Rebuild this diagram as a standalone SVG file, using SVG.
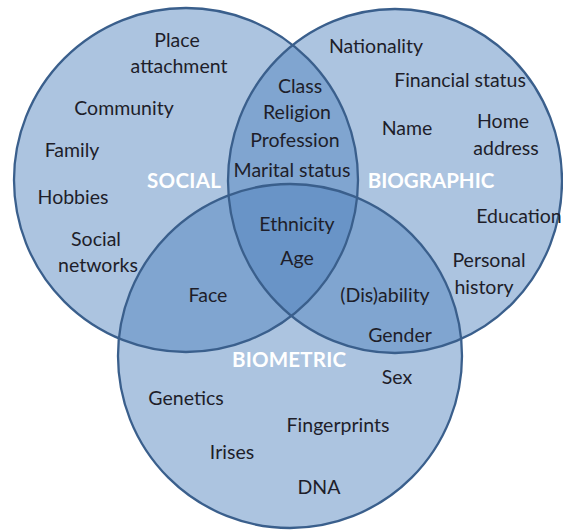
<svg xmlns="http://www.w3.org/2000/svg" width="563" height="531" viewBox="0 0 563 531">
<style>
.set{fill:#4f81bd;fill-opacity:0.47;}
.edge{fill:none;stroke:#3a5f8c;stroke-width:2.3;}
text{font-family:Lato,"Open Sans","Liberation Sans",sans-serif;font-size:19.5px;fill:#1e1e2a;text-anchor:middle;}
.title{font-weight:bold;fill:#ffffff;font-size:20.5px;}
</style>
<rect width="563" height="531" fill="#ffffff"/>
<g id="social">
<circle class="set" cx="186" cy="180" r="172"/>
</g>
<g id="biographic">
<ellipse class="set" cx="395" cy="181" rx="167" ry="172"/>
</g>
<g id="biometric">
<circle class="set" cx="290" cy="356" r="172"/>
</g>
<g id="connectors">
<circle class="edge" cx="186" cy="180" r="172"/>
<ellipse class="edge" cx="395" cy="181" rx="167" ry="172"/>
<circle class="edge" cx="290" cy="356" r="172"/>
</g>
<g id="labels">
<text class="title" x="184" y="188" textLength="74" lengthAdjust="spacing">SOCIAL</text>
<text class="title" x="431" y="188">BIOGRAPHIC</text>
<text class="title" x="289" y="367" textLength="114" lengthAdjust="spacing">BIOMETRIC</text>
</g>
<g id="social-items">
<text x="177" y="47">Place</text>
<text x="179" y="73">attachment</text>
<text x="124" y="115">Community</text>
<text x="72" y="157">Family</text>
<text x="73" y="204">Hobbies</text>
<text x="96" y="246">Social</text>
<text x="98" y="272">networks</text>
</g>
<g id="social-biographic-items">
<text x="300" y="93">Class</text>
<text x="297" y="119">Religion</text>
<text x="295" y="147">Profession</text>
<text x="292" y="177">Marital status</text>
</g>
<g id="biographic-items">
<text x="376" y="53">Nationality</text>
<text x="460" y="87">Financial status</text>
<text x="407" y="135">Name</text>
<text x="503" y="128">Home</text>
<text x="506" y="155">address</text>
<text x="519" y="223">Education</text>
<text x="489" y="267">Personal</text>
<text x="484" y="294">history</text>
</g>
<g id="center-items">
<text x="297" y="231">Ethnicity</text>
<text x="297" y="265">Age</text>
</g>
<g id="overlap-items">
<text x="208" y="302">Face</text>
<text x="385" y="302">(Dis)ability</text>
<text x="400" y="342">Gender</text>
</g>
<g id="biometric-items">
<text x="397" y="384">Sex</text>
<text x="186" y="405">Genetics</text>
<text x="338" y="432">Fingerprints</text>
<text x="232" y="459">Irises</text>
<text x="319" y="494">DNA</text>
</g>
</svg>
